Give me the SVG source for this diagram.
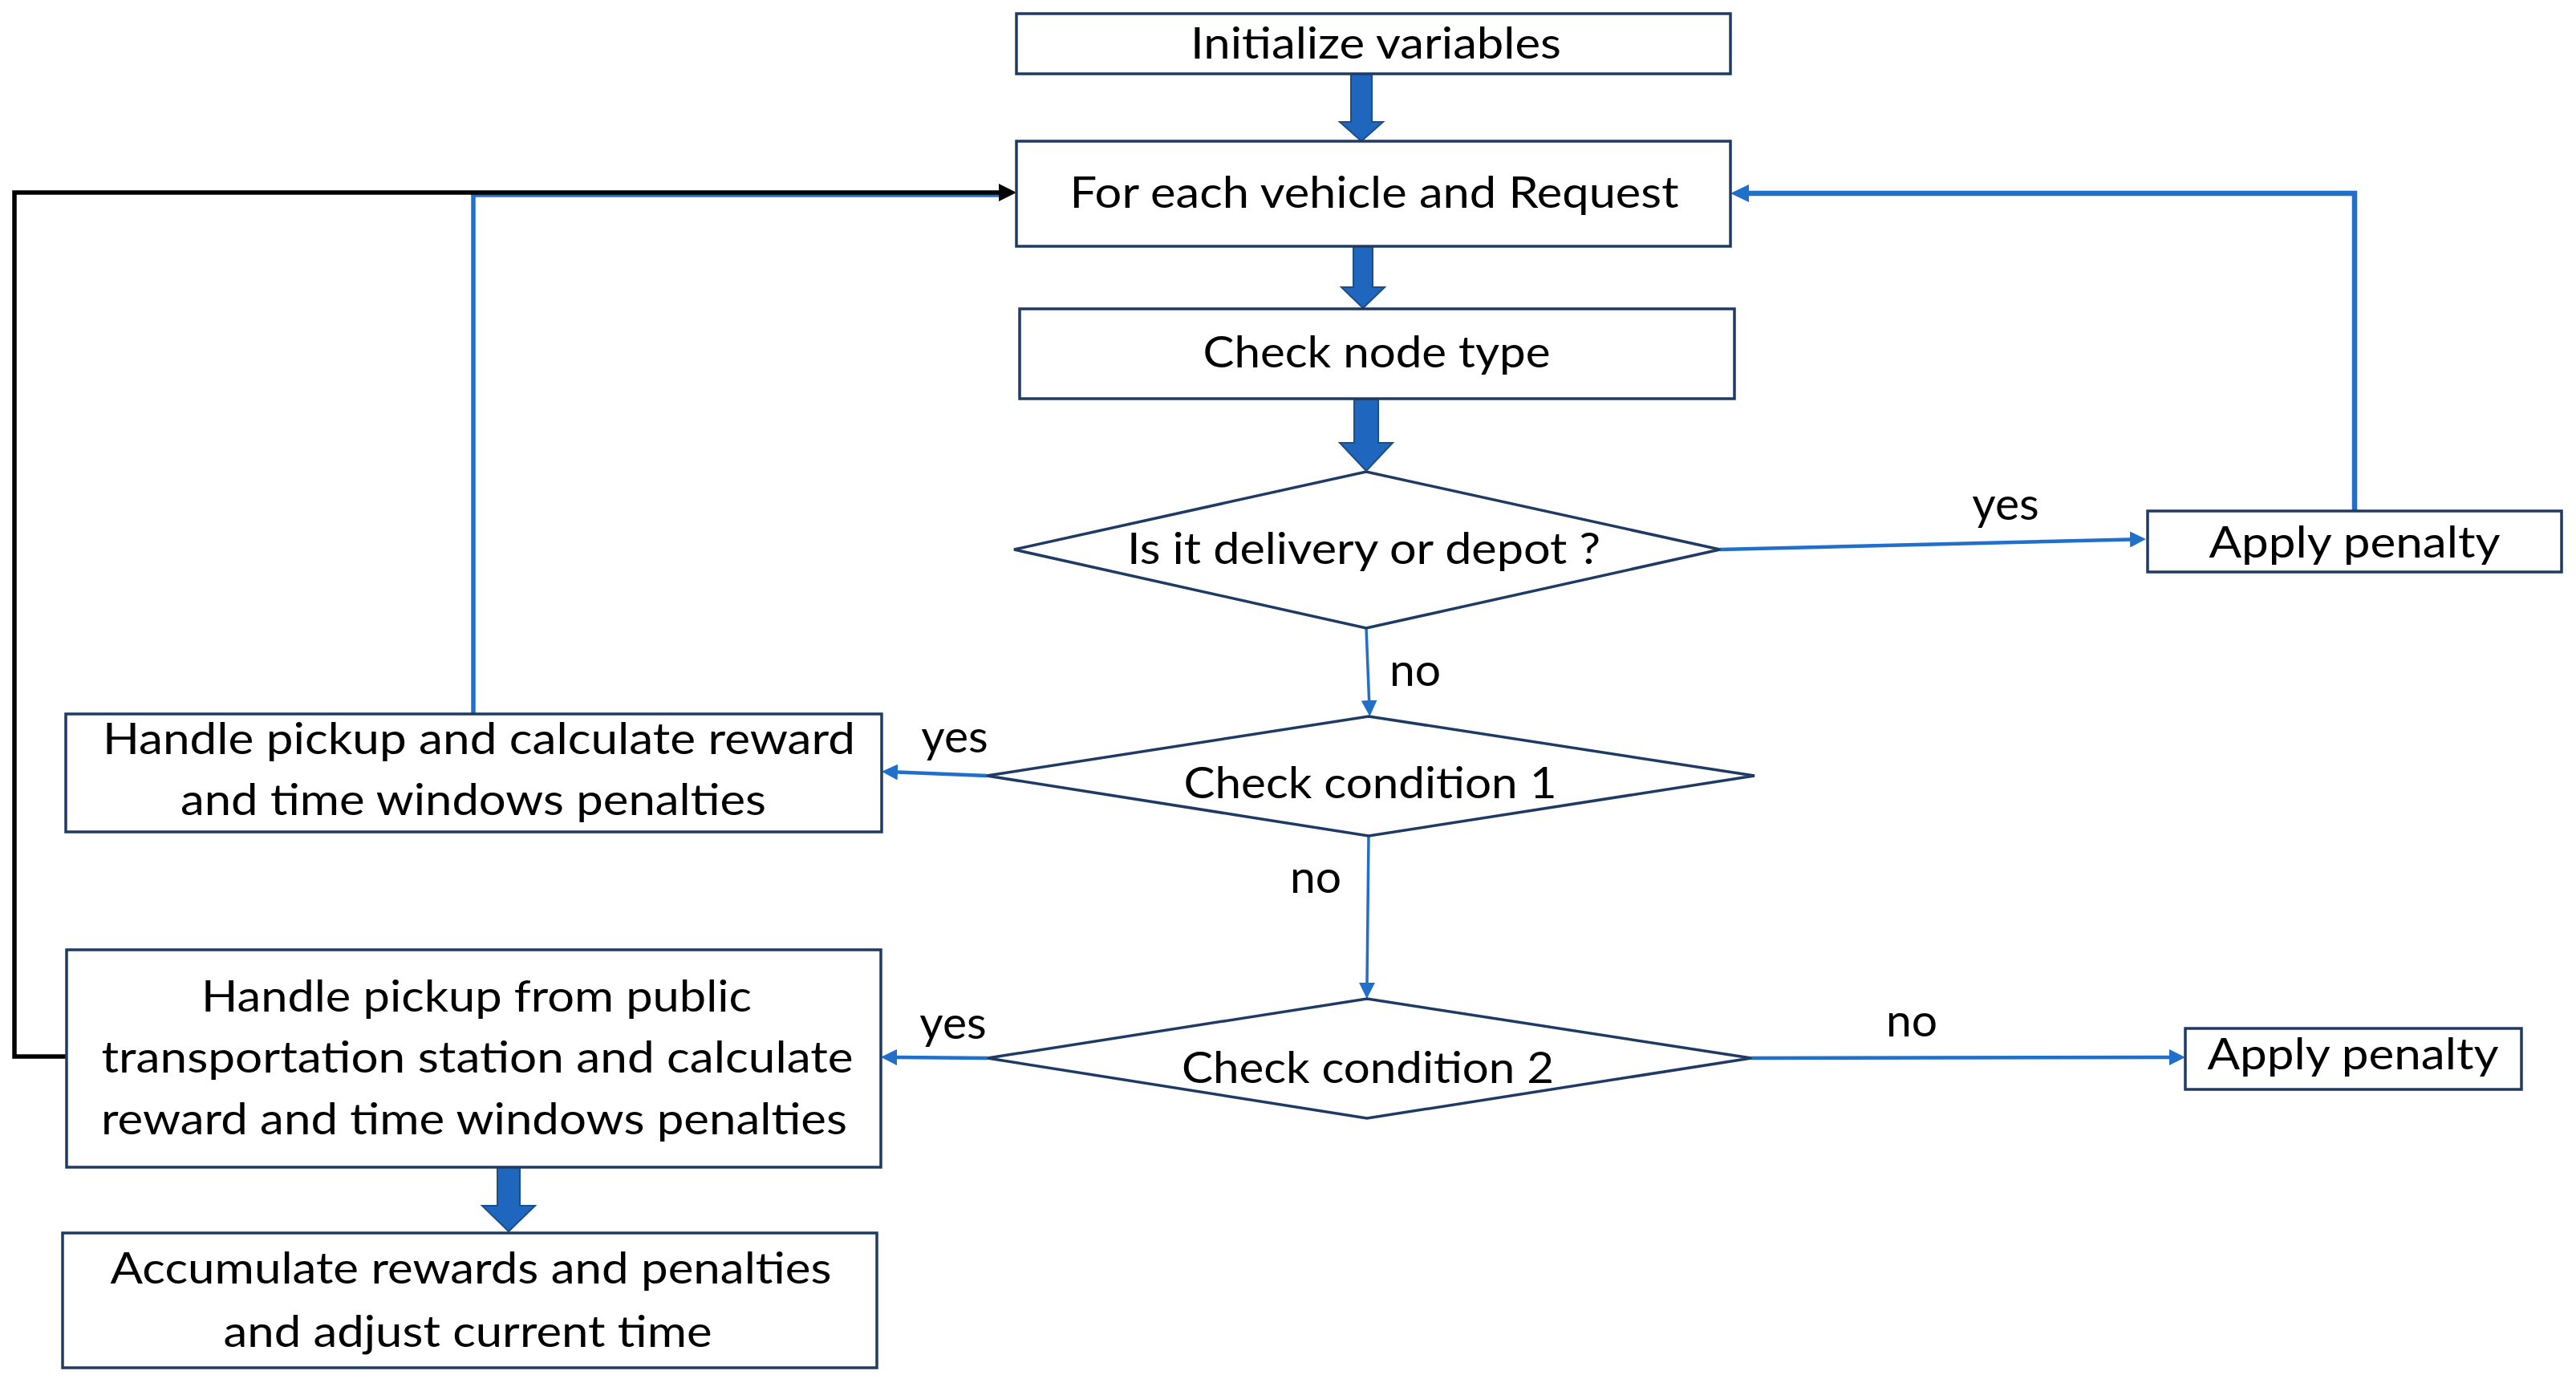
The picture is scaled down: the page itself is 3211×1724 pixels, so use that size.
<svg xmlns="http://www.w3.org/2000/svg" width="3211" height="1724" viewBox="0 0 3211 1724">
<style>
.box{fill:#fff;stroke:#1F3B63;stroke-width:3.5}
.t{font-family:Lato,"Open Sans","Liberation Sans",sans-serif;font-size:54px;fill:#000;text-anchor:middle}
.lbl{font-family:Lato,"Open Sans","Liberation Sans",sans-serif;font-size:57px;fill:#000;text-anchor:middle}
.thin{fill:none;stroke:#1F6FCB;stroke-width:3.5}
.mid{fill:none;stroke:#1F6FCB;stroke-width:4.5}
.thick{fill:none;stroke:#1F6FCB;stroke-width:6.5}
.blk{fill:none;stroke:#000;stroke-width:5.5}
.block{fill:#1F66BE;stroke:#1C4E8A;stroke-width:2}
</style>
<defs>
<marker id="ab" viewBox="0 0 20 20" refX="0" refY="10" markerWidth="20" markerHeight="20" markerUnits="userSpaceOnUse" orient="auto"><path d="M0,0 L20,10 L0,20 z" fill="#1F6FCB"/></marker>
<marker id="abL" viewBox="0 0 23 22" refX="0" refY="11" markerWidth="23" markerHeight="22" markerUnits="userSpaceOnUse" orient="auto"><path d="M0,0 L23,11 L0,22 z" fill="#1F6FCB"/></marker>
<marker id="ak" viewBox="0 0 22 22" refX="0" refY="11" markerWidth="22" markerHeight="22" markerUnits="userSpaceOnUse" orient="auto"><path d="M0,0 L22,11 L0,22 z" fill="#000"/></marker>
</defs>
<rect width="3211" height="1724" fill="#fff"/>
<g id="connectors">
<polygon class="block" points="1684,92 1710,92 1710,152 1724,152 1697,176 1670,152 1684,152"/>
<polygon class="block" points="1687,307 1711,307 1711,358 1726,358 1699,384 1672,358 1687,358"/>
<polygon class="block" points="1688,498 1718,498 1718,552 1736,552 1703,587 1670,552 1688,552"/>
<polygon class="block" points="620,1455 648,1455 648,1503 667,1503 634,1535 601,1503 620,1503"/>
<path class="mid" d="M2144,685 L2655,672.5" marker-end="url(#ab)"/>
<path class="thin" d="M1703,783 L1706.6,873" marker-end="url(#ab)"/>
<path class="mid" d="M1230,967 L1119,962.5" marker-end="url(#ab)"/>
<path class="thin" d="M1706,1042 L1704,1225" marker-end="url(#ab)"/>
<path class="mid" d="M1231,1319 L1118,1318" marker-end="url(#ab)"/>
<path class="mid" d="M2183,1319 L2704,1318" marker-end="url(#ab)"/>
<path class="thick" d="M2935,637 L2935,241 L2180,241" marker-end="url(#abL)"/>
<path class="thick" style="stroke-width:5.5" d="M590,890 L590,243 L1250,243"/>
<path class="blk" d="M83,1317 L18,1317 L18,240 L1245,240" marker-end="url(#ak)"/>
<text class="lbl" x="2500" y="648">yes</text>
<text class="lbl" x="1764" y="855">no</text>
<text class="lbl" x="1190" y="938">yes</text>
<text class="lbl" x="1640" y="1113">no</text>
<text class="lbl" x="1188" y="1295">yes</text>
<text class="lbl" x="2383" y="1292">no</text>
</g>
<g id="init"><rect class="box" x="1267" y="17" width="890" height="75"/><text class="t" x="1715" y="73" textLength="462" lengthAdjust="spacingAndGlyphs">Initialize variables</text></g>
<g id="foreach"><rect class="box" x="1267" y="176" width="890" height="131"/><text class="t" x="1713" y="259" textLength="759" lengthAdjust="spacingAndGlyphs">For each vehicle and Request</text></g>
<g id="checknode"><rect class="box" x="1271" y="385" width="891" height="112"/><text class="t" x="1716" y="458" textLength="433" lengthAdjust="spacingAndGlyphs">Check node type</text></g>
<g id="delivery"><polygon class="box" points="1264,685 1703,588 2144,685 1703,783"/><text class="t" x="1700" y="703" textLength="590" lengthAdjust="spacingAndGlyphs">Is it delivery or depot ?</text></g>
<g id="penalty1"><rect class="box" x="2677" y="637" width="516" height="76"/><text class="t" x="2935" y="695" textLength="363" lengthAdjust="spacingAndGlyphs">Apply penalty</text></g>
<g id="cond1"><polygon class="box" points="1230,967 1706,893 2187,967 1706,1042"/><text class="t" x="1708" y="995" textLength="465" lengthAdjust="spacingAndGlyphs">Check condition 1</text></g>
<g id="handle1"><rect class="box" x="82" y="890" width="1017" height="147"/><text class="t" x="597" y="940" textLength="938" lengthAdjust="spacingAndGlyphs">Handle pickup and calculate reward</text><text class="t" x="590" y="1016" textLength="730" lengthAdjust="spacingAndGlyphs">and time windows penalties</text></g>
<g id="cond2"><polygon class="box" points="1231,1319 1704,1245 2183,1319 1704,1394"/><text class="t" x="1705" y="1350" textLength="464" lengthAdjust="spacingAndGlyphs">Check condition 2</text></g>
<g id="penalty2"><rect class="box" x="2724" y="1282" width="419" height="76"/><text class="t" x="2933" y="1333" textLength="363" lengthAdjust="spacingAndGlyphs">Apply penalty</text></g>
<g id="handle2"><rect class="box" x="83" y="1184" width="1015" height="271"/><text class="t" x="594" y="1261" textLength="686" lengthAdjust="spacingAndGlyphs">Handle pickup from public</text><text class="t" x="595" y="1337" textLength="937" lengthAdjust="spacingAndGlyphs">transportation station and calculate</text><text class="t" x="591" y="1414" textLength="930" lengthAdjust="spacingAndGlyphs">reward and time windows penalties</text></g>
<g id="accumulate"><rect class="box" x="78" y="1537" width="1015" height="168"/><text class="t" x="587" y="1600" textLength="899" lengthAdjust="spacingAndGlyphs">Accumulate rewards and penalties</text><text class="t" x="583" y="1679" textLength="609" lengthAdjust="spacingAndGlyphs">and adjust current time</text></g>
</svg>
